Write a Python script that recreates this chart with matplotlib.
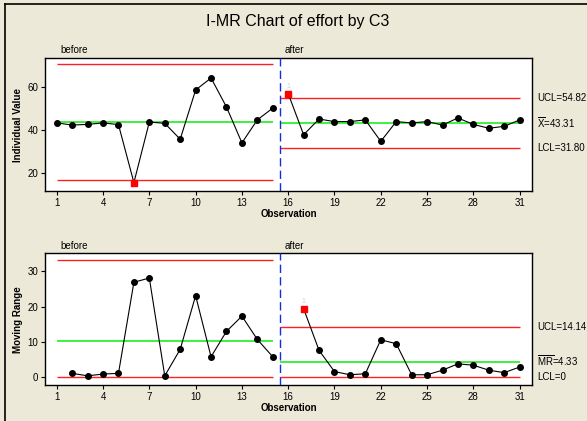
import numpy as np
import matplotlib.pyplot as plt

# observacoes e valores
obs = np.arange(1, 32)
effort = [43.3, 42.3, 42.6, 43.3, 42.5, 15.5, 43.7, 43.1, 35.7, 58.6,
          64.2, 50.7, 34.0, 44.7, 50.2, 56.9, 37.8, 45.1, 43.9, 43.9,
          44.7, 34.7, 43.9, 43.3, 43.9, 42.3, 45.6, 42.6, 40.8, 41.7, 44.7]
mr = [np.nan, 1.1, 0.4, 0.9, 1.1, 26.9, 28.1, 0.4, 7.9, 23.1,
      5.8, 13.0, 17.3, 10.7, 5.8, np.nan, 19.4, 7.6, 1.6, 0.7,
      1.0, 10.6, 9.5, 0.7, 0.7, 2.0, 3.8, 3.4, 2.0, 1.3, 2.9]

stages = ['before', 'after']
stage_first = [1, 16]
stage_last = [15, 31]

i_center = [43.7, 43.31]
i_ucl = [70.6, 54.82]
i_lcl = [16.6, 31.80]
mr_center = [10.2, 4.33]
mr_ucl = [33.2, 14.14]
mr_lcl = [0, 0]

i_fail = [6, 16]
mr_fail = [17]

xticks = [1, 4, 7, 10, 13, 16, 19, 22, 25, 28, 31]

BG = '#ECE9D8'
RED = '#FF2020'
GREEN = '#40F040'
BLUE = '#1030E0'

plt.rcParams['font.family'] = ['Liberation Sans', 'DejaVu Sans']
plt.rcParams['mathtext.fontset'] = 'custom'
plt.rcParams['mathtext.rm'] = 'Liberation Sans'
plt.rcParams['mathtext.it'] = 'Liberation Sans'

fig = plt.figure(figsize=(5.87, 4.21), dpi=100, facecolor=BG)
ax1 = fig.add_axes([0.0767, 0.5463, 0.8296, 0.3159])
ax2 = fig.add_axes([0.0767, 0.0855, 0.8296, 0.3128])

# moldura da janela (linha superior e esquerda)
fig.add_artist(plt.Line2D([5 / 587, 1], [1 - 4 / 421, 1 - 4 / 421], color='black', lw=1.2))
fig.add_artist(plt.Line2D([5 / 587, 5 / 587], [0, 1 - 4 / 421], color='black', lw=1.2))

fig.text(0.507, 0.95, 'I-MR Chart of effort by C3', ha='center', va='center', fontsize=11.5)


def desenhar(ax, valores, centro, ucl, lcl, falhas, ylim, yticks, ylabel, rotulos):
    valores = np.array(valores, dtype=float)
    for k in range(len(stages)):
        a = stage_first[k]
        b = stage_last[k]
        x0 = a if k == 0 else (stage_last[k - 1] + a) / 2
        ax.hlines(ucl[k], x0, b, color=RED, lw=1, zorder=2)
        ax.hlines(lcl[k], x0, b, color=RED, lw=1, zorder=2)
        ax.hlines(centro[k], x0, b, color=GREEN, lw=1.4, zorder=2)
        m = (obs >= a) & (obs <= b)
        ax.plot(obs[m], valores[m], color='black', lw=0.8, zorder=3)
        ok = m & ~np.isin(obs, falhas)
        ax.plot(obs[ok], valores[ok], 'o', color='black', ms=4, zorder=4)
        ax.text(x0 + 0.25, 1.02, stages[k], transform=ax.get_xaxis_transform(),
                fontsize=7, ha='left', va='bottom')
    for f in falhas:
        v = valores[obs == f][0]
        ax.plot(f, v, 's', color='#FF0000', ms=4.5, zorder=5)
        ax.text(f, v + (ylim[1] - ylim[0]) * 0.025, '1', color='#D0D0D0', fontsize=5,
                ha='center', va='bottom', zorder=1)
    ax.axvline((stage_last[0] + stage_first[1]) / 2, color=BLUE, lw=1, dashes=(6, 3), zorder=3)
    ax.set_xlim(0.24, 31.8)
    ax.set_ylim(ylim)
    ax.set_xticks(xticks)
    ax.set_yticks(yticks)
    ax.tick_params(labelsize=7, length=3, width=0.8, pad=2)
    for s in ax.spines.values():
        s.set_linewidth(1)
    ax.set_xlabel('Observation', fontsize=7, fontweight='bold', labelpad=1)
    ax.set_ylabel(ylabel, fontsize=7, fontweight='bold', labelpad=3)
    for texto, y in rotulos:
        ax.text(1.01, y, texto, transform=ax.get_yaxis_transform(), fontsize=7,
                ha='left', va='center')


desenhar(ax1, effort, i_center, i_ucl, i_lcl, i_fail, (11.6, 73.5), [20, 40, 60],
         'Individual Value',
         [('UCL=%.2f' % i_ucl[1], i_ucl[1]),
          (r'$\overline{\mathrm{X}}$=%.2f' % i_center[1], i_center[1]),
          ('LCL=%.2f' % i_lcl[1], i_lcl[1])])
desenhar(ax2, mr, mr_center, mr_ucl, mr_lcl, mr_fail, (-2.2, 35.1), [0, 10, 20, 30],
         'Moving Range',
         [('UCL=%.2f' % mr_ucl[1], mr_ucl[1]),
          (r'$\overline{\mathrm{MR}}$=%.2f' % mr_center[1], mr_center[1] + 0.4),
          ('LCL=%d' % mr_lcl[1], mr_lcl[1])])

fig.savefig('out.png', dpi=100, facecolor=BG)
